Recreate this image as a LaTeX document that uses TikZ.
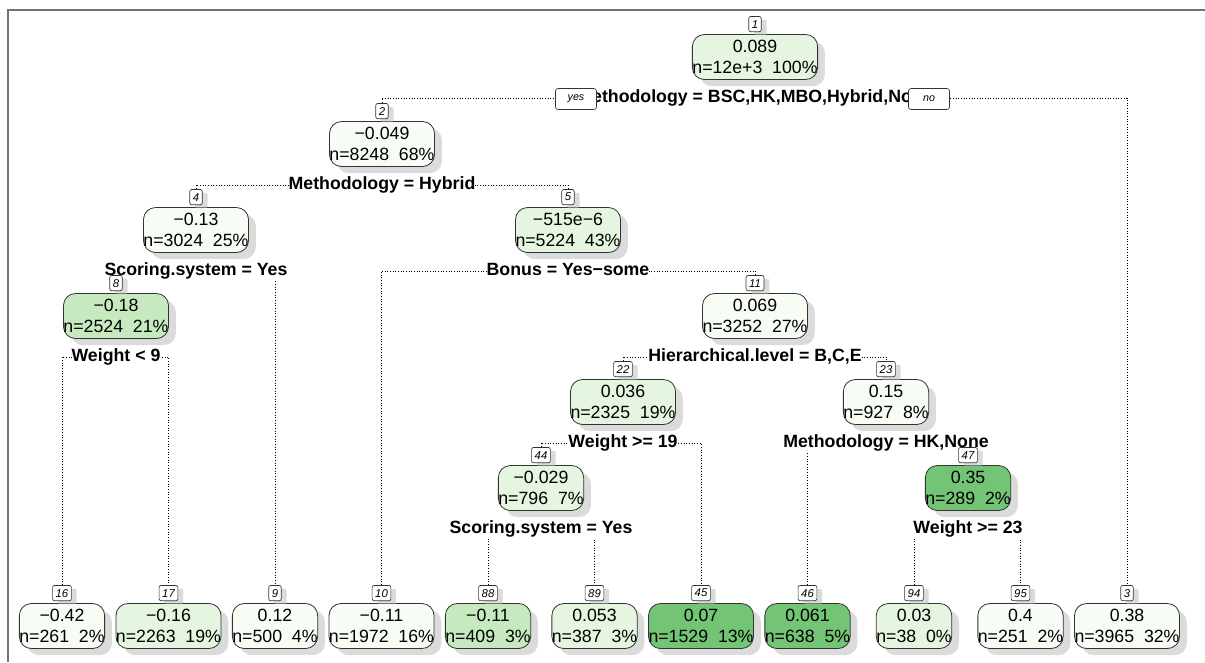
\documentclass[tikz,border=0pt]{standalone}
\usepackage{fontspec}
\setmainfont{Liberation Sans}
\usetikzlibrary{positioning, shadows, backgrounds}

\definecolor{leafwhite}{HTML}{F7FCF5}
\definecolor{leaflight}{HTML}{E5F5E0}
\definecolor{leafmid}{HTML}{C7E9C0}
\definecolor{leafdark}{HTML}{74C476}

\begin{document}
\begin{tikzpicture}[x = 0.75pt, y = -0.75pt,
    treebox/.style = {draw = black!80, line width = 0.6pt, rounded corners = 9pt, align = center,
        inner xsep = 0pt, inner ysep = 1pt, minimum height = 33.75pt,
        font = \fontsize{13.3}{15.8}\selectfont,
        drop shadow = {shadow xshift = 5.5pt, shadow yshift = -5pt, fill = black!28}},
    numbox/.style = {draw = black!80, line width = 0.5pt, fill = white, rounded corners = 1.5pt,
        inner xsep = 2.3pt, inner ysep = 0pt, minimum height = 11.5pt,
        font = \fontsize{8.5}{9}\selectfont\itshape,
        drop shadow = {shadow xshift = 4pt, shadow yshift = -2.5pt, fill = black!28}},
    splitlbl/.style = {fill = white, inner sep = 0pt, text height = 10pt, text depth = 3pt,
        font = \fontsize{13.3}{15.8}\selectfont\bfseries},
    yesno/.style = {draw = black!80, line width = 0.5pt, fill = white, rounded corners = 2pt,
        minimum width = 30.75pt, minimum height = 15.75pt, inner sep = 0pt,
        font = \fontsize{8}{9}\selectfont\itshape},
    branch/.style = {black, line width = 0.6pt, dash pattern = on 0.8pt off 1.2pt}
]
    \useasboundingbox (0,0) rectangle (1205,662);

    % frame
    \draw [black!55, line width = 1.4pt] (8,662) -- (8,10) -- (1205,10);

    % inner nodes
    \node [treebox, fill = leaflight] (n1)  at (755,57)  {0.089\\n=12e+3\ \ 100\%};
    \node [treebox, fill = leafwhite] (n2)  at (382,144) {−0.049\\n=8248\ \ 68\%};
    \node [treebox, fill = leafwhite] (n4)  at (196,230) {−0.13\\n=3024\ \ 25\%};
    \node [treebox, fill = leaflight] (n5)  at (568,230) {−515e−6\\n=5224\ \ 43\%};
    \node [treebox, fill = leafmid]   (n8)  at (116,316) {−0.18\\n=2524\ \ 21\%};
    \node [treebox, fill = leafwhite] (n11) at (755,316) {0.069\\n=3252\ \ 27\%};
    \node [treebox, fill = leaflight] (n22) at (623,402) {0.036\\n=2325\ \ 19\%};
    \node [treebox, fill = leafwhite] (n23) at (886,402) {0.15\\n=927\ \ 8\%};
    \node [treebox, fill = leaflight] (n44) at (541,488) {−0.029\\n=796\ \ 7\%};
    \node [treebox, fill = leafdark]  (n47) at (968,488) {0.35\\n=289\ \ 2\%};

    % leaves
    \node [treebox, fill = leafwhite] (n16) at (62,626)     {−0.42\\n=261\ \ 2\%};
    \node [treebox, fill = leaflight] (n17) at (168.5,626)  {−0.16\\n=2263\ \ 19\%};
    \node [treebox, fill = leafwhite] (n9)  at (275,626)    {0.12\\n=500\ \ 4\%};
    \node [treebox, fill = leafwhite] (n10) at (381.5,626)  {−0.11\\n=1972\ \ 16\%};
    \node [treebox, fill = leafmid]   (n88) at (488,626)    {−0.11\\n=409\ \ 3\%};
    \node [treebox, fill = leaflight] (n89) at (594.5,626)  {0.053\\n=387\ \ 3\%};
    \node [treebox, fill = leafdark]  (n45) at (701,626)    {0.07\\n=1529\ \ 13\%};
    \node [treebox, fill = leafdark]  (n46) at (807.5,626)  {0.061\\n=638\ \ 5\%};
    \node [treebox, fill = leaflight] (n94) at (914,626)    {0.03\\n=38\ \ 0\%};
    \node [treebox, fill = leafwhite] (n95) at (1020.5,626) {0.4\\n=251\ \ 2\%};
    \node [treebox, fill = leafwhite] (n3)  at (1127,626)   {0.38\\n=3965\ \ 32\%};

    % split labels
    \node [splitlbl] (s1)  at (755,98)  {Methodology = BSC,HK,MBO,Hybrid,None};
    \node [splitlbl] (s2)  at (382,185) {Methodology = Hybrid};
    \node [splitlbl] (s4)  at (196,271) {Scoring.system = Yes};
    \node [splitlbl] (s5)  at (568,271) {Bonus = Yes−some};
    \node [splitlbl] (s8)  at (116,357) {Weight < 9};
    \node [splitlbl] (s11) at (755,357) {Hierarchical.level = B,C,E};
    \node [splitlbl] (s22) at (623,443) {Weight >= 19};
    \node [splitlbl] (s23) at (886,443) {Methodology = HK,None};
    \node [splitlbl] (s44) at (541,529) {Scoring.system = Yes};
    \node [splitlbl] (s47) at (968,529) {Weight >= 23};

    \node [yesno] (yes) at (576,99) {yes};
    \node [yesno] (no)  at (929,99) {no};

    % node numbers
    \node [numbox, above = 1.5pt of n1]  (l1)  {1};
    \node [numbox, above = 1.5pt of n2]  (l2)  {2};
    \node [numbox, above = 1.5pt of n3]  (l3)  {3};
    \node [numbox, above = 1.5pt of n4]  (l4)  {4};
    \node [numbox, above = 1.5pt of n5]  (l5)  {5};
    \node [numbox, above = 1.5pt of n8]  (l8)  {8};
    \node [numbox, above = 1.5pt of n9]  (l9)  {9};
    \node [numbox, above = 1.5pt of n10] (l10) {10};
    \node [numbox, above = 1.5pt of n11] (l11) {11};
    \node [numbox, above = 1.5pt of n16] (l16) {16};
    \node [numbox, above = 1.5pt of n17] (l17) {17};
    \node [numbox, above = 1.5pt of n22] (l22) {22};
    \node [numbox, above = 1.5pt of n23] (l23) {23};
    \node [numbox, above = 1.5pt of n44] (l44) {44};
    \node [numbox, above = 1.5pt of n45] (l45) {45};
    \node [numbox, above = 1.5pt of n46] (l46) {46};
    \node [numbox, above = 1.5pt of n47] (l47) {47};
    \node [numbox, above = 1.5pt of n88] (l88) {88};
    \node [numbox, above = 1.5pt of n89] (l89) {89};
    \node [numbox, above = 1.5pt of n94] (l94) {94};
    \node [numbox, above = 1.5pt of n95] (l95) {95};

    % branches
    \begin{scope}[on background layer]
        \draw [branch] (l2.north)  |- (s1.center)  -| (l3.north);
        \draw [branch] (l4.north)  |- (s2.center)  -| (l5.north);
        \draw [branch] (l8.north)  |- (s4.center)  -| (l9.north);
        \draw [branch] (l10.north) |- (s5.center)  -| (l11.north);
        \draw [branch] (l16.north) |- (s8.center)  -| (l17.north);
        \draw [branch] (l22.north) |- (s11.center) -| (l23.north);
        \draw [branch] (l44.north) |- (s22.center) -| (l45.north);
        \draw [branch] (l46.north) |- (s23.center) -| (l47.north);
        \draw [branch] (l88.north) |- (s44.center) -| (l89.north);
        \draw [branch] (l94.north) |- (s47.center) -| (l95.north);
    \end{scope}
\end{tikzpicture}
\end{document}
